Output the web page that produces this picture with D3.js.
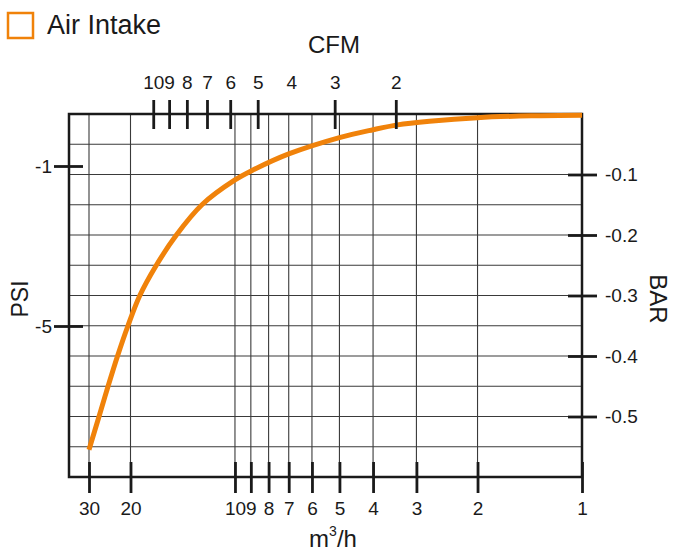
<!DOCTYPE html>
<html>
<head>
<meta charset="utf-8">
<script src="https://cdn.jsdelivr.net/npm/d3@7"></script>
<style>
  body { margin: 0; background: #fff; }
  svg { font-family: "Liberation Sans", Arial, sans-serif; }
</style>
</head>
<body>
<div id="chart"></div>
<script>
// curve: flow in m3/h, vacuum in bar
var flow = [30, 27.2, 24.9, 22.7, 20.5, 18.8, 16.85, 14.75, 12.45, 10, 8.9, 7, 5, 4, 3.4, 2.75, 2, 1.4, 1];
var vacuum = [-0.555, -0.5, -0.45, -0.4, -0.35, -0.3, -0.25, -0.2, -0.15, -0.109, -0.093, -0.066, -0.039, -0.026, -0.018, -0.012, -0.006, -0.003, -0.002];

var m3hTicks = [30, 20, 10, 9, 8, 7, 6, 5, 4, 3, 2, 1];
var cfmTicks = [10, 9, 8, 7, 6, 5, 4, 3, 2];
var cfmNoMark = [4];
var barTicks = [-0.1, -0.2, -0.3, -0.4, -0.5];
var barGrid = [-0.05, -0.1, -0.15, -0.2, -0.25, -0.3, -0.35, -0.4, -0.45, -0.5, -0.55];
var psiTicks = [-1, -5];
var seriesName = 'Air Intake';
var m3hPerCfm = 1.72;

var w = 673;
var h = 552;
var plotL = 69, plotR = 582, plotT = 114, plotB = 477;
var orange = '#f0820a';
var ink = '#1a1a1a';

var svg = d3.select('#chart')
	.append('svg')
	.attr('width', w)
	.attr('height', h);

// the 30 mark sits off the log spacing in the original, so piecewise
var xScale = d3.scaleLog()
	.domain([30, 20, 1])
	.range([89, 130.5, plotR]);
var cfmScale = d3.scaleLog()
	.domain(xScale.domain().map(function (d) { return d / m3hPerCfm; }))
	.range(xScale.range());
var barScale = d3.scaleLinear()
	.domain([0, -0.6])
	.range([plotT, plotB]);
var psiScale = d3.scaleLinear()
	.domain([-1, -5])
	.range([166, 326]);

// grid
svg.append('g')
	.selectAll('line')
	.data(m3hTicks.slice(0, -1))
	.enter()
	.append('line')
	.attr('x1', function (d) { return xScale(d); })
	.attr('x2', function (d) { return xScale(d); })
	.attr('y1', plotT)
	.attr('y2', plotB)
	.attr('stroke', '#3a3a3a')
	.attr('stroke-width', 1.1);
svg.append('g')
	.selectAll('line')
	.data(barGrid)
	.enter()
	.append('line')
	.attr('x1', plotL)
	.attr('x2', plotR)
	.attr('y1', function (d) { return barScale(d); })
	.attr('y2', function (d) { return barScale(d); })
	.attr('stroke', '#3a3a3a')
	.attr('stroke-width', 1.1);

// frame
svg.append('rect')
	.attr('x', plotL)
	.attr('y', plotT)
	.attr('width', plotR - plotL)
	.attr('height', plotB - plotT)
	.attr('fill', 'none')
	.attr('stroke', ink)
	.attr('stroke-width', 2.5);

// curve
var line = d3.line()
	.x(function (d) { return xScale(d[0]); })
	.y(function (d) { return barScale(d[1]); })
	.curve(d3.curveCatmullRom.alpha(0.5));
svg.append('path')
	.datum(flow.map(function (d, i) { return [d, vacuum[i]]; }))
	.attr('d', line)
	.attr('fill', 'none')
	.attr('stroke', orange)
	.attr('stroke-width', 5);

function styleAxis(g) {
	g.attr('font-size', '19px')
		.attr('font-family', '"Liberation Sans", Arial, sans-serif');
	g.select('.domain').remove();
	g.selectAll('.tick line')
		.attr('stroke', ink)
		.attr('stroke-width', 2.8);
	g.selectAll('.tick text')
		.attr('fill', ink);
}

// bottom m3/h
var gBottom = svg.append('g')
	.attr('transform', 'translate(0,' + plotB + ')')
	.call(d3.axisBottom(xScale)
		.tickValues(m3hTicks)
		.tickFormat(d3.format('d'))
		.tickSize(16)
		.tickPadding(9));
styleAxis(gBottom);
gBottom.selectAll('.tick line').attr('y1', -15);

// top CFM
var gTop = svg.append('g')
	.attr('transform', 'translate(0,' + plotT + ')')
	.call(d3.axisTop(cfmScale)
		.tickValues(cfmTicks)
		.tickFormat(d3.format('d'))
		.tickSize(14)
		.tickPadding(11));
styleAxis(gTop);
gTop.selectAll('.tick line')
	.attr('y1', 15)
	.attr('display', function (d) { return cfmNoMark.indexOf(d) >= 0 ? 'none' : null; });

// left PSI
var gLeft = svg.append('g')
	.attr('transform', 'translate(' + plotL + ',0)')
	.call(d3.axisLeft(psiScale)
		.tickValues(psiTicks)
		.tickSize(15)
		.tickPadding(2));
styleAxis(gLeft);
gLeft.selectAll('.tick line').attr('x1', 14);
gLeft.selectAll('.tick text').text(function (d) { return String(d); });

// right BAR
var gRight = svg.append('g')
	.attr('transform', 'translate(' + plotR + ',0)')
	.call(d3.axisRight(barScale)
		.tickValues(barTicks)
		.tickSize(15)
		.tickPadding(8));
styleAxis(gRight);
gRight.selectAll('.tick line').attr('x1', -14);
gRight.selectAll('.tick text').text(function (d) { return d.toFixed(1); });

// titles
svg.append('text')
	.text('CFM')
	.attr('x', 334)
	.attr('y', 53)
	.attr('text-anchor', 'middle')
	.attr('font-size', '24px')
	.attr('fill', ink);

var unit = svg.append('text')
	.attr('x', 333)
	.attr('y', 547)
	.attr('text-anchor', 'middle')
	.attr('font-size', '24px')
	.attr('fill', ink);
unit.append('tspan').text('m');
unit.append('tspan').text('3').attr('font-size', '14px').attr('dy', -11);
unit.append('tspan').text('/h').attr('dy', 11);

svg.append('text')
	.text('PSI')
	.attr('transform', 'translate(28,299) rotate(-90)')
	.attr('text-anchor', 'middle')
	.attr('font-size', '23px')
	.attr('fill', ink);

svg.append('text')
	.text('BAR')
	.attr('transform', 'translate(650,299) rotate(90)')
	.attr('text-anchor', 'middle')
	.attr('font-size', '24px')
	.attr('fill', ink);

// legend
svg.append('rect')
	.attr('x', 8)
	.attr('y', 13)
	.attr('width', 25)
	.attr('height', 25)
	.attr('fill', 'none')
	.attr('stroke', orange)
	.attr('stroke-width', 2.5);
svg.append('text')
	.text(seriesName)
	.attr('x', 47)
	.attr('y', 34)
	.attr('font-size', '27px')
	.attr('fill', ink);
</script>
</body>
</html>
